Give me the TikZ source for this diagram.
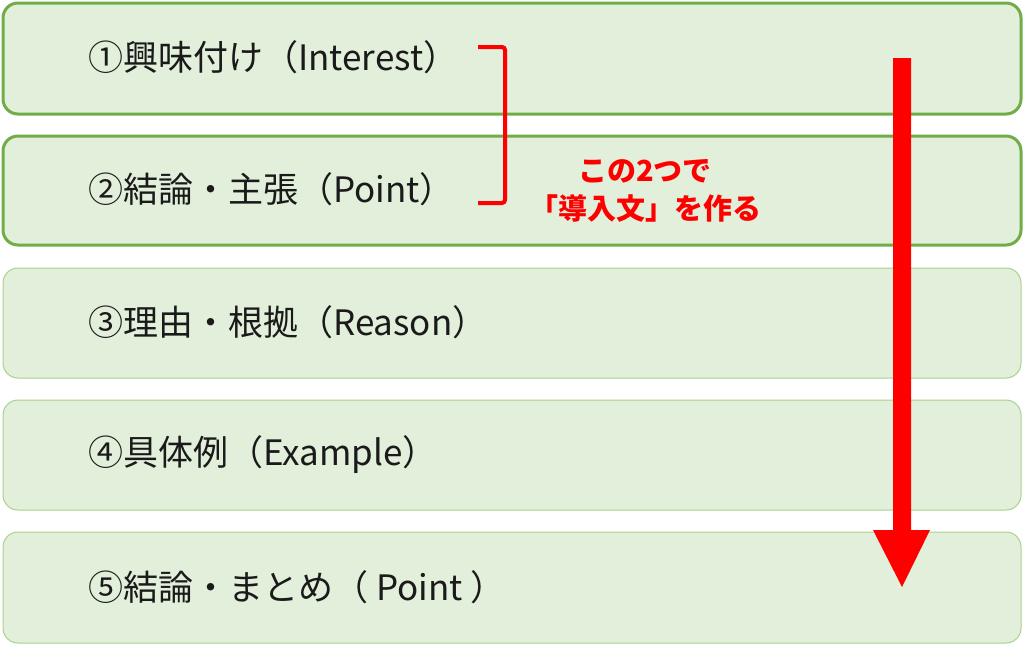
\documentclass[tikz,border=0pt]{standalone}
\usepackage{fontspec}
\setmainfont{Noto Sans CJK JP}
\definecolor{boxfill}{HTML}{E2EFDA}
\definecolor{darkgreen}{HTML}{70AD47}
\definecolor{lightgreen}{HTML}{A9D18E}
\definecolor{txt}{HTML}{1A1A1A}
\begin{document}
\begin{tikzpicture}[x=1pt,y=-1pt,
  box/.style={fill=boxfill,rounded corners=15pt},
  strongbox/.style={box,draw=darkgreen,line width=3pt},
  weakbox/.style={box,draw=lightgreen,line width=1pt},
  label/.style={anchor=west,inner sep=0pt,font=\fontsize{35}{40}\selectfont,text=txt},
  note/.style={align=center,inner sep=0pt,font=\fontsize{29}{38}\selectfont\bfseries,text=red}
]
\useasboundingbox (0,0) rectangle (1024,646);
\draw[strongbox] (3,3) rectangle (1021,114);
\draw[strongbox] (3,136) rectangle (1021,245);
\draw[weakbox] (3,268) rectangle (1021,378);
\draw[weakbox] (3,400) rectangle (1021,510);
\draw[weakbox] (3,532) rectangle (1021,643);
\node[label] (t1) at (88,57) {①興味付け（Interest）};
\node[label] (t2) at (88,189) {②結論・主張（Point）};
\node[label] (t3) at (88,322) {③理由・根拠（Reason）};
\node[label] (t4) at (88,455) {④具体例（Example）};
\node[label] (t5) at (88,587) {⑤結論・まとめ（ Point ）};
% bracket
\coordinate (b1) at (478,47);
\coordinate (b2) at (478,203);
\draw[red,line width=4pt,rounded corners=3pt] (b1) -- (505,47) -- (505,203) -- (b2);
\node[note] (n) at (645,191) {この2つで\\「導入文」を作る};
% arrow
\coordinate (a0) at (902,58);
\coordinate (a1) at (902,587);
\fill[red] (893,58) -- (911,58) -- (911,530) -- (930,530) -- (a1) -- (873,530) -- (893,530) -- cycle;
\end{tikzpicture}
\end{document}
